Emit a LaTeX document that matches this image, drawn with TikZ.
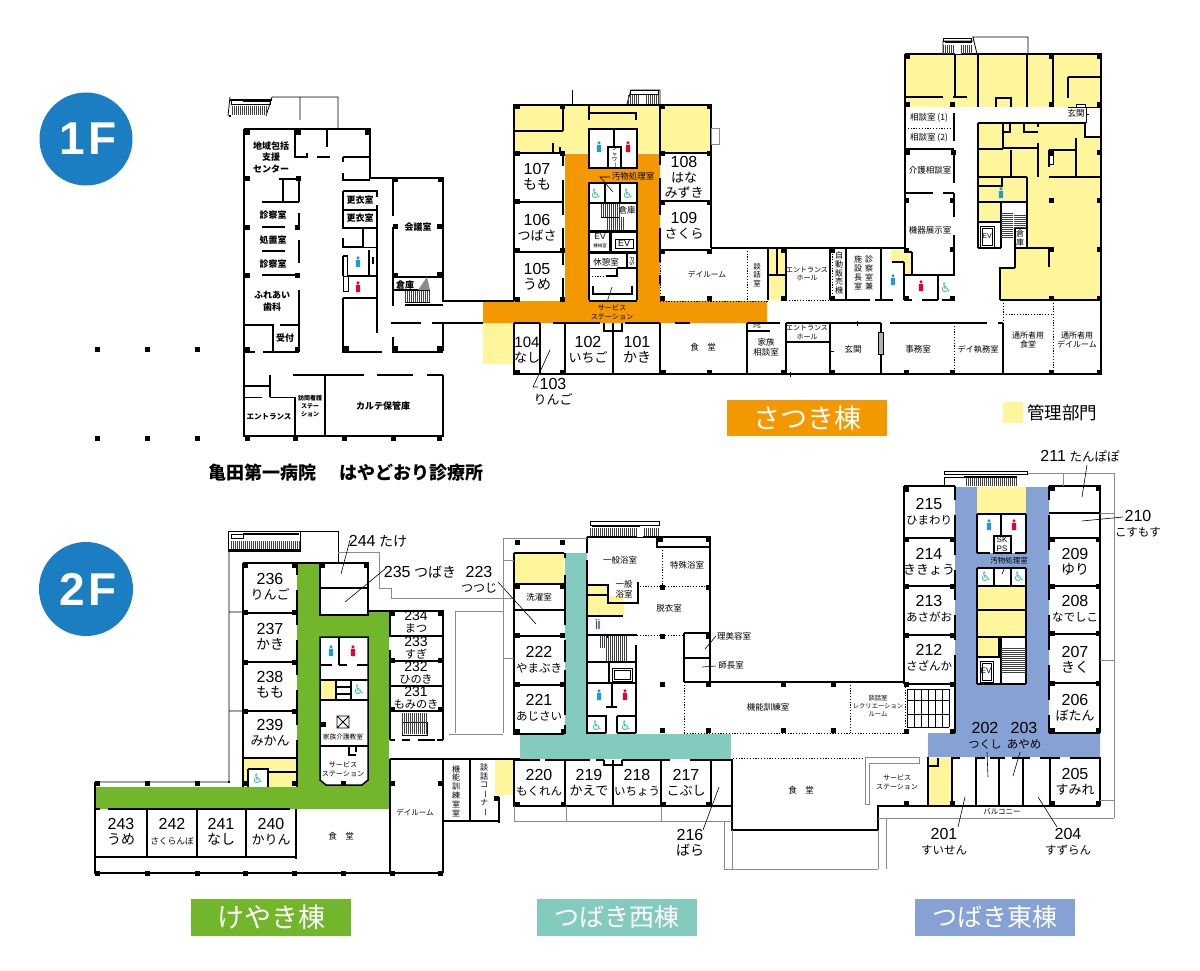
\documentclass[tikz,border=0pt]{standalone}
\usepackage{fontspec}
\usepackage{graphicx}
\setmainfont{Noto Sans CJK JP}
\newfontfamily\latf{Liberation Sans}
\newfontfamily\djv{DejaVu Sans}
\definecolor{yel}{HTML}{FFF59B}
\definecolor{ora}{HTML}{F39800}
\definecolor{gre}{HTML}{72B62B}
\definecolor{tea}{HTML}{84CBBF}
\definecolor{blu}{HTML}{86A1D3}
\definecolor{dot}{HTML}{1B7EC2}
\definecolor{mal}{HTML}{1E9AD6}
\definecolor{fem}{HTML}{E60033}
\definecolor{whc}{HTML}{3DBDAA}
\definecolor{gry}{HTML}{8A8A8A}
\newcounter{nn}
\tikzset{
 wall/.style={line width=1.5pt,black},
 thinw/.style={line width=0.8pt,black},
 grayw/.style={line width=1pt,gry},
 dots/.style={line width=0.9pt,black,dash pattern=on 1.2pt off 1.6pt},
 hat/.style={line width=0.5pt,black!75},
 leader/.style={line width=0.6pt,black},
 lbl/.style={inner sep=0,align=center,black},
 room/.style={lbl,font=\fontsize{16}{15}\selectfont},
 mid/.style={lbl,font=\fontsize{14}{11.5}\selectfont},
 sm/.style={lbl,font=\fontsize{8.5}{10}\selectfont},
 tiny/.style={lbl,font=\fontsize{7.1}{9}\selectfont},
 bsm/.style={lbl,font=\fontsize{9}{11.5}\selectfont\bfseries},
 tag/.style={inner sep=0,text=white,font=\fontsize{27}{27}\selectfont},
 bdg/.style={inner sep=0,text=white,font=\fontsize{46}{46}\selectfont\bfseries\latf},
}
\newcommand\TT[4][sm]{\stepcounter{nn}\node[#1] (t\thenn) at (#2,#3) {#4};}
% room labels: digits over kana, kana scaled by how many characters fit
\newcommand\RN[4]{\stepcounter{nn}\node[room] (t\thenn) at (#1,#2) {{\latf #3}\\{\fontsize{14}{15}\selectfont #4}};}
\newcommand\RT[4]{\stepcounter{nn}\node[room] (t\thenn) at (#1,#2) {{\latf #3}\\{\fontsize{13}{15}\selectfont #4}};}
\newcommand\RF[4]{\stepcounter{nn}\node[room] (t\thenn) at (#1,#2) {{\latf #3}\\{\fontsize{11.5}{15}\selectfont #4}};}
\newcommand\RM[4]{\stepcounter{nn}\node[mid] (t\thenn) at (#1,#2) {{\latf #3}\\{\fontsize{11.2}{11.5}\selectfont #4}};}
\newcommand\cols[1]{\foreach \x/\y in {#1} \fill[black] (\x-2.5,\y-2.5) rectangle (\x+2.5,\y+2.5);}
\newcommand\person[3]{\fill[#3] (#1,#2-4.2) circle (1.7);\fill[#3,rounded corners=0.8pt] (#1-2.2,#2-2.2) rectangle (#1+2.2,#2+5.2);}
\newcommand\wc[2]{\stepcounter{nn}\node[inner sep=0,text=whc,font=\fontsize{13}{13}\selectfont\djv] (t\thenn) at (#1,#2) {♿};}
\newcommand\hst[4]{\foreach \i in {0,2,...,#3} \draw[hat] (#1+\i,#2)--(#1+\i,#2+#4);}
\newcommand\vst[4]{\foreach \i in {0,2,...,#4} \draw[hat] (#1,#2+\i)--(#1+#3,#2+\i);}
\newcommand\lng{\rotatebox[origin=c]{-90}{ー}}
\begin{document}
\begin{tikzpicture}[x=1pt,y=-1pt]
\fill[white] (0,0) rectangle (1200,970);
\useasboundingbox (0,0) rectangle (1200,970);
%% badges
\fill[dot] (86,139) circle (46.5);
\fill[dot] (86,589) circle (47);
\node[bdg] (b1) at (88,139) {1\hspace{4pt}F};
\node[bdg] (b2) at (88,589) {2\hspace{4pt}F};
%% ===== fills 1F
\fill[yel] (514,105) rectangle (711,153);
\fill[yel] (483,323) rectangle (514,364);
\fill[yel] (768,248) rectangle (786,300);
\fill[yel] (905,55) rectangle (1101,107);
\fill[yel] (891,250)--(912,250)--(912,275)--(904,275)--(904,262)--(891,262)--cycle;
\fill[yel] (978,123)--(1086,123)--(1086,137)--(1101,137)--(1101,300)--(1000,300)--(1000,268)--(1015,268)--(1015,249)--(1026,249)--(1026,202)--(1001,202)--(1001,221)--(978,221)--cycle;
\fill[ora] (483,301)--(565,301)--(565,154)--(660,154)--(660,301)--(767,301)--(767,323)--(483,323)--cycle;
\fill[white] (589,129) rectangle (637,168);
\fill[white] (589,183) rectangle (637,301);
%% ===== 1F left clinic
\draw[wall] (244,129)--(370,129)--(370,178)--(443,178)--(443,301)--(514,301)
 (443,323)--(483,323) (443,323)--(443,351) (443,375)--(443,436)--(244,436)--(244,129)
 (295,130)--(295,157)--(307,157)--(307,153) (317,157)--(330,157) (327,130)--(327,147)
 (343,157)--(370,157) (343,157)--(343,162) (343,173)--(343,180)--(370,180)
 (279,179)--(300,179) (283,180)--(283,202) (262,202)--(299,202) (299,179)--(299,202)
 (299,213)--(299,227) (262,227)--(285,227) (262,251)--(285,251) (299,240)--(299,263)
 (262,275)--(299,275) (299,290)--(299,352)
 (244,325)--(273,325)--(273,352) (280,325)--(299,325)
 (244,352)--(255,352) (263,352)--(299,352)
 (293,375)--(364,375) (377,375)--(413,375) (427,375)--(443,375)
 (325,375)--(325,435) (295,397)--(295,435) (244,386)--(270,386) (270,375)--(270,397)
 (343,191)--(377,191)--(377,197) (343,191)--(343,228)--(377,228)--(377,205) (343,210)--(377,210)
 (363,228)--(363,247)--(343,247)--(343,238)
 (377,228)--(377,333)
 (343,256)--(348,256) (343,256)--(343,276) (348,276)--(377,276) (369,250)--(369,276) (373,257)--(373,264)
 (343,298)--(377,298) (343,298)--(343,352)--(382,352)
 (393,177)--(393,216) (393,227)--(393,306) (393,277)--(443,277) (393,290)--(430,290)
 (405,305)--(443,305)
 (391,323)--(421,323) (432,323)--(443,323) (393,337)--(393,352)--(443,352);
\draw[thinw] (347,256)--(347,276) (343,276) rectangle (348,291) (363,247)--(377,247);
\draw[thinw] (244,397)--(262,397) (270,397)--(295,397);
\hst{405}{291}{24}{11}
\draw[thinw] (405,302)--(430,302);
\fill[black!45] (418,290)--(427,277)--(430,290)--cycle;
\draw[thinw] (230,97)--(228,116) (272,97)--(266,116) (272,97)--(338,97)--(338,129) (300,97)--(300,120);
\draw[wall] (230,100)--(272,100);
\draw[thinw] (231,104)--(268,104);
\draw[wall] (243,101)--(271,101);
\draw[thinw] (231,100) rectangle (270,104);
\hst{232}{106}{34}{9}
\draw[wall] (229,116)--(231,116);
\cols{247/132,298/132,367/132,247/178,298/178,395/179,440/179,247/227,297/227,395/226,439/226,247/275,297/275,395/275,439/274,247/349,297/349,346/348,395/348,439/348,247/438,295/438,344/438,393/438,439/438,97/349,147/349,197/349,97/438,147/438,197/438}
\TT[bsm]{271}{157}{地域包括\\支援\\センター}
\TT[bsm]{273}{215}{診察室}
\TT[bsm]{273}{240}{処置室}
\TT[bsm]{273}{264}{診察室}
\TT[bsm]{272}{301}{ふれあい\\歯科}
\TT[bsm]{285}{338}{受付}
\TT[lbl,font=\fontsize{7.5}{9}\selectfont\bfseries]{269}{417}{エントランス}
\TT[lbl,font=\fontsize{6}{8}\selectfont\bfseries]{310}{406}{訪問看護\\ステー\\ション}
\TT[bsm]{383}{406}{カルテ保管庫}
\TT[bsm]{360}{200}{更衣室}
\TT[bsm]{360}{218}{更衣室}
\TT[bsm]{418}{227}{会議室}
\TT[bsm]{405}{285}{倉庫}
\person{358}{262}{mal}
\person{358}{287}{fem}
\TT[lbl,font=\fontsize{18}{20}\selectfont\bfseries]{346}{473}{亀田第一病院\hspace{24pt}はやどおり診療所}
%% ===== Satsuki
\draw[wall] (514,153)--(514,105)--(711,105)--(711,248)
 (514,153)--(514,301) (514,323)--(514,374)--(1101,374)
 (514,153)--(563,153) (563,153)--(563,166) (563,180)--(563,215) (563,228)--(563,265) (563,278)--(563,301)
 (514,202)--(563,202) (514,252)--(563,252)
 (660,153)--(660,165) (660,178)--(660,215) (660,228)--(660,262) (660,275)--(660,284)
 (660,153)--(711,153) (660,201)--(711,201) (660,250)--(711,250)
 (514,131)--(563,131) (563,105)--(563,131) (553,143)--(553,153) (560,147)--(560,153)
 (589,105)--(589,120) (589,113)--(636,113)--(636,120) (660,105)--(660,153)
 (589,129) rectangle (637,168) (614,129)--(614,147) (608,147) rectangle (621,168)
 (589,183) rectangle (637,203) (605,183)--(605,203) (620,183)--(620,203)
 (589,203)--(589,300) (637,203)--(637,300) (589,301)--(637,301)
 (589,231)--(637,231)
 (589,232) rectangle (610,252) (611,232) rectangle (637,252)
 (589,253)--(626,253) (627,253) rectangle (637,268)
 (617,268)--(637,268) (617,268)--(617,276)--(606,276)
 (593,286)--(593,294)--(632,294)--(632,286)
 (604,323)--(604,331)--(622,331)--(622,323)
 (514,323)--(540,323) (553,323)--(600,323) (625,323)--(660,323) (675,323)--(690,323)
 (540,323)--(540,374) (565,323)--(565,374) (613,323)--(613,374) (660,323)--(660,374)
 (747,323)--(747,374) (786,323)--(786,374) (747,323)--(780,323) (747,331)--(770,331)
 (711,248)--(905,248) (905,54)--(905,248)
 (777,248)--(777,275) (768,248)--(768,300) (768,275)--(786,275) (786,248)--(786,300);
\draw[thinw,gry] (711,128) rectangle (719,144);
\draw[line width=1pt] (615,239) rectangle (633,248);
\draw[thinw] (589,268)--(617,268);
\draw[dots] (660,248)--(660,301) (747,248)--(747,301) (660,301)--(768,301) (589,276)--(606,276);
\hst{601}{204}{18}{13}
\hst{607}{217}{16}{13}
\draw[thinw] (601,217)--(619,217);
\draw[leader] (613,192)--(600,177)--(610,177);
\draw[leader] (612,287)--(607,302);
\draw[leader] (550,350)--(533,387)--(538,387);
\draw[thinw] (572,90)--(572,104);
\draw[thinw] (627,104)--(631,90)--(660,90)--(660,104);
\hst{628}{95}{30}{9}
\fill[white] (640,94) rectangle (645,104);
\draw[thinw] (630,90) rectangle (658,94);
\person{599}{147}{mal}
\person{628}{147}{fem}
\wc{596}{194}
\wc{628}{194}
\TT[lbl,font=\fontsize{5.5}{5.3}\selectfont]{614.5}{157.5}{シ\\ャ\\ワ\\\lng}
\TT[sm]{633}{176}{汚物処理室}
\TT[sm]{627}{210}{倉庫}
\TT[lbl,font=\fontsize{8.5}{9}\selectfont\latf]{600}{237}{EV}
\TT[lbl,font=\fontsize{4.5}{5}\selectfont]{600}{246}{機械室}
\TT[lbl,font=\fontsize{9}{9}\selectfont\latf]{624}{243.5}{EV}
\TT[sm]{606}{262}{休憩室}
\node[inner sep=0,rotate=-90,font=\fontsize{6}{6}\selectfont\latf] (pst) at (632,261) {PS};
\TT[tiny]{612}{312}{サービス\\ステーション}
\RN{537}{177}{107}{もも}
\RT{537}{228}{106}{つばさ}
\RN{537}{277}{105}{うめ}
\stepcounter{nn}\node[room] (t\thenn) at (684,177) {{\latf 108}\\{\fontsize{13}{14}\selectfont はな}\\{\fontsize{13}{14}\selectfont みずき}};
\RT{684}{226}{109}{さくら}
\stepcounter{nn}\node[lbl,font=\fontsize{15}{15}\selectfont] (t\thenn) at (527,350) {{\latf 104}\\{\fontsize{13}{15}\selectfont なし}};
\RT{553}{392}{103}{りんご}
\RT{588}{350}{102}{いちご}
\RN{637}{350}{101}{かき}
\TT[sm]{703}{347}{食　堂}
\TT[lbl,font=\fontsize{7.7}{9}\selectfont]{707}{274}{デイルーム}
\TT[lbl,font=\fontsize{7.5}{8.8}\selectfont]{757}{275}{談\\話\\室}
\TT[sm]{766}{347}{家族\\相談室}
\TT[lbl,font=\fontsize{5.5}{6}\selectfont\latf]{757}{327}{PS}
%% ===== right part 1F
\draw[wall] (905,54)--(1101,54)--(1101,374)
 (955,55)--(955,97) (978,55)--(978,107) (1027,55)--(1027,107) (1053,55)--(1053,107)
 (905,97)--(943,97) (953,97)--(967,97) (996,107)--(996,98)--(1011,98)--(1011,107)
 (1068,77)--(1101,77) (1068,77)--(1068,98)
 (905,149)--(954,149) (905,193)--(933,193) (943,193)--(954,193)
 (954,113)--(954,141) (954,151)--(954,183) (954,193)--(954,217) (954,235)--(954,275)
 (912,252)--(912,275) (905,252)--(912,252) (892,262)--(904,262) (904,262)--(904,300) (905,275)--(955,275)
 (881,248)--(881,300) (938,275)--(938,300) (846,248)--(846,300) (830,248)--(830,300)
 (881,300)--(893,300) (875,300)--(881,300) (846,300)--(870,300) (904,300)--(912,300) (922,300)--(938,300) (942,300)--(955,300) (830,300)--(846,300)
 (978,123)--(1086,123) (978,123)--(978,248)
 (1003,123)--(1003,148) (1003,132)--(1010,132)--(1010,123) (1024,123)--(1024,132)--(1038,132)
 (1038,123)--(1038,127) (1003,148)--(1038,148) (978,149)--(1003,149) (1038,143)--(1038,177)
 (1011,150)--(1011,177) (978,177)--(1027,177) (978,186)--(1002,186)--(1002,177)
 (1027,177)--(1027,248) (978,202)--(1027,202) (1001,202)--(1001,248) (978,222)--(1001,222)
 (978,248)--(1001,248) (1015,228)--(1026,228) (1015,228)--(1015,268) (1015,248)--(1049,248)
 (1015,268)--(1000,268)--(1000,300) (1049,248)--(1049,267)
 (1000,300)--(1101,300)
 (1085,123)--(1085,137)--(1101,137)
 (1049,150)--(1076,150) (1076,138)--(1076,177) (1049,177)--(1100,177) (1049,150)--(1049,167)
 (786,323)--(881,323) (890,323)--(987,323) (998,323)--(1003,323)
 (830,323)--(830,374) (786,342)--(830,342) (881,323)--(881,374) (1003,323)--(1003,374);
\draw[dots] (786,300)--(830,300) (832,248)--(832,300) (905,128)--(954,128)
 (1003,303)--(1003,323) (1003,314)--(1053,314) (1053,300)--(1053,374) (954,323)--(954,374);
\draw[thinw] (1086,107)--(1086,123) (1068,107)--(1086,107) (1086,107)--(1101,107);
\draw[thinw,fill=white] (1076,104) rectangle (1085,107);
\draw[thinw,fill=white] (1049,155) rectangle (1053,164);
\draw[thinw] (980,226) rectangle (994,247) (982,228) rectangle (992,245);
\vst{1001}{213}{12}{24}
\vst{1014}{215}{12}{13}
\draw[thinw] (1086,114)--(1089,114) (857,321)--(857,326) (830,351)--(834,351) (790,372)--(790,377);
\draw[line width=0.6pt,fill=black!30] (878,332) rectangle (883,354);
\draw[thinw] (943,54)--(943,41)--(973,41) (972,37)--(1028,37)--(1028,54) (973,37)--(977,54);
\draw[thinw] (943,38) rectangle (971,41);
\hst{943}{45}{28}{9}
\fill[white] (955,45) rectangle (961,54);
\draw[wall] (945,42)--(972,42);
\cols{517/106,562/106,662/106,709/106,517/153,562/153,662/153,709/153,517/201,662/202,709/202,517/250,562/250,662/251,709/251,517/299,562/299,662/298,709/298,517/372,562/372,663/372,709/372}
\cols{907/56,1051/56,1099/56,907/104,952/104,1051/104,1099/104,907/152,953/152,1051/152,1099/152,906/200,952/200,1051/200,1099/200,952/249,1051/249,1099/249,906/250,906/298,952/298,1051/298,1099/298,832/250,832/298,783/250,783/298,783/372,832/372,906/372,952/372,1051/372,1099/372}
\person{1001}{193}{mal}
\person{893}{280}{mal}
\person{921}{286}{fem}
\wc{946}{288}
\TT[sm]{1076}{113}{玄関}
\TT[sm]{929}{118}{相談室 (1)}
\TT[sm]{929}{138}{相談室 (2)}
\TT[sm]{930}{170}{介護相談室}
\TT[sm]{930}{230}{機器展示室}
\TT[lbl,font=\fontsize{7}{7}\selectfont\latf]{987}{236}{EV}
\TT[lbl,font=\fontsize{8}{9.5}\selectfont]{1020}{238}{倉\\庫}
\TT[lbl,font=\fontsize{7}{8.5}\selectfont]{807}{274}{エントランス\\ホール}
\TT[lbl,font=\fontsize{8}{8.6}\selectfont]{839}{273}{自\\動\\販\\売\\機}
\TT[lbl,font=\fontsize{8}{9}\selectfont]{858}{273}{施\\設\\長\\室}
\TT[lbl,font=\fontsize{8}{9}\selectfont]{869}{273}{診\\察\\室\\兼}
\TT[lbl,font=\fontsize{7}{8.5}\selectfont]{807}{332.5}{エントランス\\ホール}
\TT[sm]{853}{349}{玄関}
\TT[sm]{918}{349}{事務室}
\TT[lbl,font=\fontsize{8.2}{10}\selectfont]{978}{349}{デイ執務室}
\TT[lbl,font=\fontsize{8}{9.5}\selectfont]{1028}{340}{通所者用\\食堂}
\TT[lbl,font=\fontsize{8}{9.5}\selectfont]{1077}{340}{通所者用\\デイルーム}
\fill[ora] (727,400) rectangle (887,436);
\node[tag] (satsuki) at (807,418) {さつき棟};
\fill[yel] (1003,402) rectangle (1023,423);
\node[inner sep=0,font=\fontsize{17.5}{17.5}\selectfont] (leg) at (1062,413) {管理部門};
%% ===== 2F fills
\fill[gre] (297,563)--(320,563)--(320,615)--(368,615)--(368,611)--(389,611)--(389,809)--(95,809)--(95,787)--(297,787)--cycle;
\fill[white,draw=black,line width=1.5pt] (320,637)--(368,637)--(368,780)--(362,785)--(326,785)--(320,780)--cycle;
\fill[yel] (243,758) rectangle (297,787);
\fill[white] (248,769) rectangle (268,787);
\fill[yel] (321,680) rectangle (336,699);
\fill[yel] (514,553) rectangle (564,584);
\fill[yel] (587,586) rectangle (608,595);
\fill[yel] (587,596) rectangle (624,615);
\fill[yel] (495,760) rectangle (513,795);
\fill[tea] (565,553) rectangle (587,734);
\fill[tea] (520,734) rectangle (731,759);
\fill[blu] (955,487)--(977,487)--(977,568)--(1026,568)--(1026,487)--(1049,487)--(1049,733)--(1100,733)--(1100,757)--(928,757)--(928,733)--(955,733)--cycle;
\fill[blu] (977,553) rectangle (1026,568);
\fill[blu] (977,684) rectangle (1026,733);
\fill[white] (977,568) rectangle (1026,684);
\fill[yel] (977,487) rectangle (1026,514);
\fill[yel] (977,586) rectangle (1026,609);
\fill[yel] (977,611) rectangle (1026,636);
\fill[yel] (977,637) rectangle (999,656);
\fill[yel] (928,758) rectangle (952,805);
%% ===== 2F left wing
\draw[wall] (243,563)--(368,563)--(368,615)--(320,615)--(320,563)
 (243,563)--(243,787) (297,563)--(297,575) (297,590)--(297,625) (297,640)--(297,675) (297,690)--(297,725) (297,740)--(297,787)
 (243,613)--(297,613) (243,662)--(297,662) (243,711)--(297,711) (243,758)--(297,758)
 (248,769)--(268,769)--(268,787) (248,769)--(248,787) (268,772)--(297,772)
 (320,588)--(368,588)
 (368,611)--(443,611)--(443,740) (390,611)--(390,637) (390,650)--(390,740)
 (390,636)--(443,636) (390,661)--(443,661) (390,686)--(443,686) (390,711)--(443,711)
 (339,637)--(339,665) (320,665)--(332,665) (339,665)--(347,665) (357,665)--(368,665)
 (320,680)--(368,680) (336,680)--(336,699) (351,680)--(351,699) (336,687)--(351,687) (336,694)--(351,694)
 (320,700)--(368,700) (320,746)--(368,746)
 (349,746)--(349,755)--(356,755) (356,746)--(356,752)
 (95,782)--(95,873)--(440,873) (95,809)--(100,809) (108,809)--(290,809)
 (95,857)--(296,857) (147,809)--(147,857) (197,809)--(197,857) (246,809)--(246,857) (296,809)--(296,859)
 (390,759)--(390,873) (443,759)--(443,873) (390,759)--(520,759) (470,759)--(470,821) (443,821)--(499,821)
 (499,797)--(499,823) (390,873)--(443,873)
 (390,740)--(395,740) (402,740)--(410,740) (418,740)--(435,740) (437,740)--(443,740);
\draw[thinw] (95,782)--(229,782)--(229,552) (229,612)--(243,612) (229,711)--(243,711)
 (337,716) rectangle (349,728) (337,716)--(349,728) (349,716)--(337,728);
\draw[wall] (229,781)--(229,783);
\draw[thinw] (228,531) rectangle (300,551);
\draw[thinw] (300,531)--(338,531)--(338,563);
\draw[wall] (243,534)--(299,534) (228,550)--(300,550);
\draw[thinw] (231,534) rectangle (243,538);
\hst{231}{541}{68}{8}
\draw[grayw] (338,552)--(379,552)--(379,588)--(391,588)--(391,598)--(513,598);
\draw[thinw] (402,722) rectangle (427,735);
\hst{402}{713}{24}{21}
\draw[grayw] (455,733)--(455,611)--(503,611) (449,734)--(503,734);
\cols{245/565,294/565,322/565,366/565,245/612,294/612,245/662,294/662,245/711,294/711,245/783,294/783,97/783,147/783,197/783,392/613,440/613,392/660,440/660,392/709,440/709,392/783,440/783,97/873,147/873,197/873,245/873,294/873,343/873,392/873,440/873,323/724,343/783}
\person{331}{651}{mal}
\person{353}{651}{fem}
\wc{359}{690}
\wc{258}{779}
\RT{270}{587}{236}{りんご}
\RN{270}{637}{237}{かき}
\RN{270}{685}{238}{もも}
\RT{270}{733}{239}{みかん}
\RM{416}{622}{234}{まつ}
\RM{416}{648}{233}{すぎ}
\RM{416}{673}{232}{ひのき}
\RM{416}{698}{231}{もみのき}
\RN{121}{832}{243}{うめ}
\stepcounter{nn}\node[room] (t\thenn) at (172,832) {{\latf 242}\\{\fontsize{8.7}{15}\selectfont さくらんぼ}};
\RN{221}{832}{241}{なし}
\RT{271}{832}{240}{かりん}
\TT[lbl,font=\fontsize{6.7}{8}\selectfont]{343}{737}{家族介護教室}
\TT[tiny]{343}{769}{サービス\\ステーション}
\TT[sm]{341}{836}{食　堂}
\TT[lbl,font=\fontsize{7.5}{9}\selectfont]{415}{813}{デイルーム}
\TT[lbl,font=\fontsize{8}{8.8}\selectfont]{456}{791}{機\\能\\訓\\練\\室\\室}
\TT[lbl,font=\fontsize{8}{8.8}\selectfont]{484}{790}{談\\話\\コ\\\lng\\ナ\\\lng}
\TT[room]{378}{541}{{\latf 244} {\fontsize{14}{15}\selectfont たけ}}
\TT[room]{420}{572}{{\latf 235} {\fontsize{14}{15}\selectfont つばき}}
\stepcounter{nn}\node[room] (t\thenn) at (479,580) {{\latf 223}\\{\fontsize{12}{15}\selectfont つつじ}};
\draw[leader] (350,540)--(341,574);
\draw[leader] (385,569)--(345,602);
\draw[leader] (498,582)--(536,624);
%% ===== 2F centre
\draw[wall] (514,553)--(564,553) (514,553)--(514,734)--(564,734) (565,553)--(565,558) (565,575)--(565,625) (565,640)--(565,662)
 (565,670)--(565,715) (565,725)--(565,734)
 (514,584)--(564,584) (514,610)--(564,610) (514,636)--(564,636) (514,685)--(564,685)
 (587,537)--(587,553) (587,560)--(587,734)
 (587,537)--(710,537)--(710,682) (657,537)--(657,547)--(710,547)
 (587,585)--(608,585)--(608,603)--(638,603)--(638,582) (587,595)--(608,595) (587,616)--(623,616)
 (587,635)--(637,635) (636,645)--(636,733) (587,662)--(637,662) (609,662)--(609,683)
 (587,683)--(637,683) (612,683)--(612,707) (606,707)--(617,707)
 (588,716)--(606,716)--(606,733) (617,716)--(636,716) (617,716)--(617,733)
 (588,733)--(606,733) (617,733)--(636,733) (607,636)--(607,638)
 (684,633)--(710,633) (684,633)--(684,682) (684,658)--(710,658)
 (684,682)--(905,682)
 (514,760)--(540,760) (545,760)--(590,760) (596,760)--(604,760) (622,760)--(670,760) (690,760)--(732,760)
 (604,760)--(604,765)--(622,765)--(622,760)
 (514,760)--(514,806)--(732,806) (565,760)--(565,806) (613,760)--(613,806) (661,760)--(661,806) (711,760)--(711,806)
 (732,759)--(732,830)--(878,830)--(878,806)--(1100,806);
\draw[thinw] (612,668) rectangle (632,681) (614,670) rectangle (630,679);
\hst{600}{636}{26}{12}
\hst{606}{648}{20}{13}
\draw[dots] (662,547)--(662,587) (637,586)--(710,586) (637,635)--(684,635) (684,682)--(684,733)
 (684,733)--(905,733)--(905,682) (850,682)--(850,733) (733,758)--(865,758);
\draw[grayw] (503,538)--(587,538) (503,538)--(503,733) (503,560)--(514,560) (503,658)--(514,658)
 (514,806)--(514,821)--(732,821) (566,806)--(566,821) (661,806)--(661,821)
 (724,821)--(724,869)--(878,869) (732,830)--(732,869) (878,830)--(878,869) (886,818)--(886,869)
 (878,818)--(1114,818);
\draw[thinw] (590,521) rectangle (659,525);
\draw[wall] (592,526)--(640,526);
\hst{590}{528}{46}{8}
\hst{644}{528}{14}{8}
\fill[white] (637,528) rectangle (643,537);
\draw[leader] (716,636)--(705,649) (716,666)--(702,667) (719,787)--(703,830);
\cols{517/542,562/542,517/586,562/586,517/635,562/635,517/684,562/684,517/731,563/731,517/804,563/804,663/804,708/804,660/539,708/539,662/587,708/587,662/636,708/636,662/684,708/684,783/684,833/684,662/730,708/730,783/730,833/730,496/798}
\TT[sm]{539}{597}{洗濯室}
\RF{539}{660}{222}{やまぶき}
\RF{539}{708}{221}{あじさい}
\RF{539}{783}{220}{もくれん}
\RT{589}{783}{219}{かえで}
\RF{637}{783}{218}{いちょう}
\RT{686}{783}{217}{こぶし}
\RN{690}{843}{216}{ばら}
\TT[sm]{620}{560}{一般浴室}
\TT[sm]{624}{589}{一般\\浴室}
\TT[sm]{687}{565}{特殊浴室}
\TT[sm]{669}{608}{脱衣室}
\TT[sm]{734}{636}{理美容室}
\TT[sm]{731}{665}{師長室}
\TT[sm]{768}{707}{機能訓練室}
\TT[sm]{801}{790}{食　堂}
\person{599}{695}{mal}
\person{625}{695}{fem}
\fill[fem] (595.5,621) rectangle (597,629);\fill[fem] (596.2,619.6) circle (0.9);
\fill[mal] (598,621) rectangle (599.5,629);\fill[mal] (598.8,619.6) circle (0.9);
\wc{597}{726}
\wc{626}{726}
%% ===== 2F east
\draw[wall] (904,486)--(955,486) (904,486)--(904,684) (955,486)--(955,500) (955,515)--(955,555) (955,570)--(955,600) (955,615)--(955,640) (955,655)--(955,733)
 (904,538)--(955,538) (904,586)--(955,586) (904,635)--(955,635) (904,684)--(955,684)
 (1049,486)--(1100,486)--(1100,733) (1049,486)--(1049,500) (1049,515)--(1049,550) (1049,565)--(1049,600) (1049,615)--(1049,650) (1049,665)--(1049,700) (1049,715)--(1049,733)
 (1049,513)--(1100,513) (1049,538)--(1100,538) (1049,586)--(1100,586) (1049,634)--(1100,634) (1049,683)--(1100,683) (1049,733)--(1100,733)
 (977,514)--(1026,514) (977,514)--(977,553) (1026,514)--(1026,553) (1001,514)--(1001,536) (977,553)--(990,553) (1015,553)--(1026,553)
 (994,536) rectangle (1011,553)
 (977,568)--(1026,568) (977,568)--(977,684) (1026,568)--(1026,684) (994,568)--(994,586) (1011,568)--(1011,586)
 (977,586)--(1026,586) (977,610)--(1026,610) (977,637)--(1026,637) (977,657)--(1001,657) (999,637)--(999,657)
 (1001,637)--(1001,684) (977,684)--(1026,684)
 (928,757)--(928,806) (952,757)--(952,806) (976,757)--(976,806) (999,757)--(999,806) (1023,757)--(1023,806) (1050,757)--(1050,806) (1100,757)--(1100,806)
 (952,758)--(960,758) (975,758)--(985,758) (990,758)--(1005,758) (1012,758)--(1030,758) (1040,758)--(1060,758) (1070,758)--(1100,758)
 (928,766)--(938,766)--(938,758);
\draw[thinw] (980,661) rectangle (993,682) (982,663) rectangle (991,680);
\vst{1001}{648}{25}{24}
\draw[grayw] (1027,473)--(1114,473)--(1114,818) (1063,473)--(1063,486) (1100,513)--(1114,513) (1100,660)--(1114,660) (1100,800)--(1114,800);
\draw[thinw] (944,471) rectangle (1027,474) (944,477)--(944,486) (944,477)--(965,477);
\hst{966}{478}{50}{8}
\draw[wall] (964,477)--(1017,477);
\foreach \x in {907,914,921,928,935,942,949} \draw[thinw] (\x,689)--(\x,727);
\foreach \y in {689,700,714,727} \draw[thinw] (907,\y)--(949,\y);
\draw[grayw] (865,757)--(919,757)--(919,763)--(869,763)--(869,804)--(865,804)--cycle;
\draw[leader] (965,797)--(958,827) (987,752)--(988,777) (1020,752)--(1013,776) (1038,797)--(1057,827) (1087,465)--(1082,497) (1123,517)--(1082,521) (1005,567)--(1002,574);
\cols{906/489,1052/488,1098/488,906/539,952/539,1052/539,1098/539,906/586,952/586,1052/586,1098/586,906/635,952/635,1052/633,1098/633,906/684,952/684,1052/683,1098/683,906/731,952/731,1052/730,1098/730,906/803,952/803,1052/803,1098/803}
\person{989}{525}{mal}
\person{1014}{525}{fem}
\wc{986}{577}
\wc{1019}{577}
\TT[lbl,font=\fontsize{8}{9}\selectfont\latf]{1002}{544}{SK\\PS}
\TT[lbl,font=\fontsize{7.5}{9}\selectfont]{1009}{561}{汚物処理室}
\TT[lbl,font=\fontsize{8}{8}\selectfont\latf]{986}{671}{EV}
\RF{929}{512}{215}{ひまわり}
\RT{929}{562}{214}{ききょう}
\RF{929}{609}{213}{あさがお}
\RF{929}{658}{212}{さざんか}
\RN{1075}{562}{209}{ゆり}
\RF{1075}{609}{208}{なでしこ}
\RN{1075}{660}{207}{きく}
\RT{1075}{708}{206}{ぼたん}
\RT{1075}{782}{205}{すみれ}
\stepcounter{nn}\node[room] (t\thenn) at (985,736) {{\latf 202}\\{\fontsize{11}{15}\selectfont つくし}};
\stepcounter{nn}\node[room] (t\thenn) at (1024,736) {{\latf 203}\\{\fontsize{11.5}{15}\selectfont あやめ}};
\RF{944}{842}{201}{すいせん}
\RF{1068}{842}{204}{すずらん}
\TT[room]{1080}{456}{{\latf 211} {\fontsize{12.5}{15}\selectfont たんぽぽ}}
\RF{1138}{524}{210}{こすもす}
\TT[lbl,font=\fontsize{6.3}{8}\selectfont]{878}{706}{談話室\\レクリエーション\\ルーム}
\TT[lbl,font=\fontsize{7}{9}\selectfont]{897}{782}{サービス\\ステーション}
\TT[lbl,font=\fontsize{7.5}{9}\selectfont]{1002}{812}{バルコニー}
\fill[gre] (191,899) rectangle (351,936);
\node[tag] (keyaki) at (271,917) {けやき棟};
\fill[tea] (537,899) rectangle (697,936);
\node[tag,font=\fontsize{25}{25}\selectfont] (west) at (617,917) {つばき西棟};
\fill[blu] (915,899) rectangle (1075,936);
\node[tag,font=\fontsize{25}{25}\selectfont] (east) at (995,917) {つばき東棟};
\end{tikzpicture}
\end{document}
